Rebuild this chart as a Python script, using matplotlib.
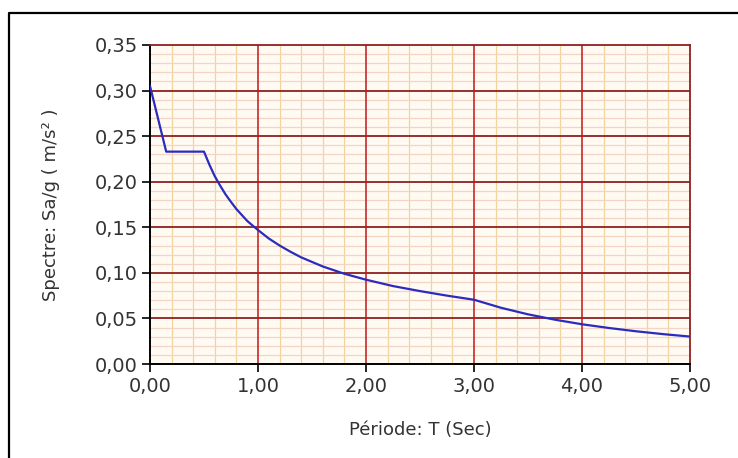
import matplotlib
matplotlib.use("Agg")
import matplotlib.pyplot as plt
from matplotlib.ticker import MultipleLocator, FuncFormatter
from matplotlib.lines import Line2D


# spectre values
periode = [0.0, 0.15, 0.5, 0.55, 0.6, 0.65, 0.7, 0.75, 0.8, 0.85, 0.9, 0.95, 1.0,
           1.1, 1.2, 1.3, 1.4, 1.6, 1.8, 2.0, 2.25, 2.5, 2.75, 3.0, 3.25, 3.5,
           3.75, 4.0, 4.25, 4.5, 4.75, 5.0]
spectre = [0.305, 0.233, 0.233, 0.2187, 0.206, 0.1956, 0.186, 0.1778, 0.170,
           0.1635, 0.157, 0.1519, 0.147, 0.1377, 0.130, 0.1232, 0.117, 0.107,
           0.099, 0.0925, 0.0855, 0.080, 0.075, 0.0705, 0.0617, 0.0545, 0.0486,
           0.0436, 0.0395, 0.0359, 0.0328, 0.0301]

x_ticks = [0, 1, 2, 3, 4, 5]
y_ticks = [0.0, 0.05, 0.10, 0.15, 0.20, 0.25, 0.30, 0.35]


fig = plt.figure(figsize=(7.38, 4.58), dpi=100)
ax = fig.add_axes([150/738, 1 - 364/458, 540/738, 319/458])
ax.set_facecolor("#fffaf2")

ax.plot(periode, spectre, color="#2b2bbf", lw=1.6, zorder=5)

ax.set_xlim(0, 5)
ax.set_ylim(0, 0.35)
ax.set_xticks(x_ticks)
ax.set_yticks(y_ticks)
ax.xaxis.set_minor_locator(MultipleLocator(0.2))
ax.yaxis.set_minor_locator(MultipleLocator(0.01))

# decimal comma labels
ax.xaxis.set_major_formatter(FuncFormatter(lambda v, p: f"{v:.2f}".replace(".", ",")))
ax.yaxis.set_major_formatter(FuncFormatter(lambda v, p: f"{v:.2f}".replace(".", ",")))

#grid: minor ones from the axis, major ones drawn on top
ax.grid(which="minor", axis="x", color="#f2d49a", lw=0.9)
ax.grid(which="minor", axis="y", color="#f4d4c4", lw=0.9)
ax.set_axisbelow(True)
for yv in y_ticks[1:-1]:
    ax.axhline(yv, color="#8e2020", lw=1.3, zorder=1)
for xv in x_ticks[1:-1]:
    ax.axvline(xv, color="#c01818", lw=1.1, zorder=2)

ax.tick_params(which="major", direction="out", length=5.5, width=1.2,
               labelsize=14, labelcolor="#333333", pad=3.5)
ax.tick_params(which="minor", length=0)

for s in ["left", "bottom"]:
    ax.spines[s].set_color("black")
    ax.spines[s].set_linewidth(1.4)
for s in ["top", "right"]:
    ax.spines[s].set_color("#8e2020")
    ax.spines[s].set_linewidth(1.3)

ax.set_xlabel("Période: T (Sec)", fontsize=13, color="#333333")
ax.xaxis.label.set_va("center")
ax.xaxis.set_label_coords(0.5, -(430 - 364) / 319)
ax.set_ylabel("Spectre: Sa/g ( m/s² )", fontsize=13, color="#333333")
ax.yaxis.label.set_va("center")
ax.yaxis.set_label_coords(-(150 - 51) / 540, 0.5)

# outer frame (only left and top visible)
fig.add_artist(Line2D([8.5/738, 8.5/738, 1.0], [0.0, 1 - 13/458, 1 - 13/458],
                      transform=fig.transFigure, color="black", lw=1.6))

fig.savefig("out.png", dpi=100)
